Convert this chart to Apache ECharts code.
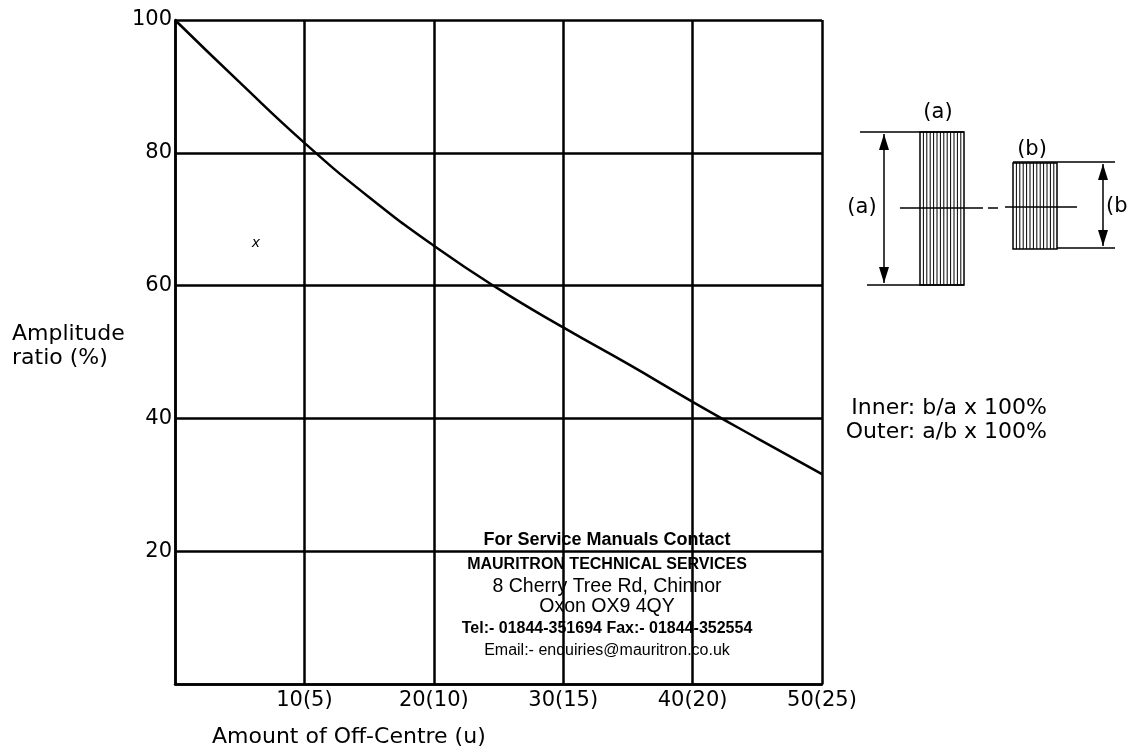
<!DOCTYPE html>
<html>
<head>
<meta charset="utf-8">
<script src="https://cdn.jsdelivr.net/npm/echarts@6/dist/echarts.min.js"></script>
<style>
html,body{margin:0;padding:0;background:#fff;}
#chart{width:1127px;height:750px;}
</style>
</head>
<body>
<div id="chart"></div>
<script>
// ---- data ----
const offCentre = [0, 5, 10, 15, 20, 25, 30, 35, 40, 45, 50];
const amplitudeRatio = [100, 90.6, 81.5, 73.3, 66.0, 59.5, 53.7, 48.2, 42.5, 37.0, 31.6];
const xTickValues = [10, 20, 30, 40, 50];
const xTickLabels = ['10(5)', '20(10)', '30(15)', '40(20)', '50(25)'];
const yTickValues = [20, 40, 60, 80, 100];
const yTickLabels = ['20', '40', '60', '80', '100'];
const contactLines = [
  'For Service Manuals Contact',
  'MAURITRON TECHNICAL SERVICES',
  '8 Cherry Tree Rd, Chinnor',
  'Oxon OX9 4QY',
  'Tel:- 01844-351694 Fax:- 01844-352554',
  'Email:- enquiries@mauritron.co.uk'
];
const formulaLines = ['Inner: b/a x 100%', 'Outer: a/b x 100%'];

const GEO = '"DejaVu Sans", Lato, sans-serif';
const ARIAL = '"Liberation Sans", Arial, sans-serif';

const chart = echarts.init(document.getElementById('chart'));

// schematic decoration
const g = [];
function line(x1, y1, x2, y2, w) {
  g.push({type: 'line', shape: {x1, y1, x2, y2}, style: {stroke: '#000', lineWidth: w || 1.5}, z: 10});
}
function arrowHead(x, y, dir) {
  g.push({type: 'polygon', shape: {points: [[x, y], [x - 5, y - dir * 16], [x + 5, y - dir * 16]]}, style: {fill: '#000'}, z: 10});
}
function txt(x, y, t, size, align, font, weight, style) {
  g.push({type: 'text', x, y, style: {text: t, fontSize: size, fontFamily: font || GEO, fill: '#000', align: align || 'left', verticalAlign: 'middle', fontWeight: weight || 'normal', fontStyle: style || 'normal'}, z: 10});
}
// rect (a)
g.push({type: 'rect', shape: {x: 920, y: 132, width: 44, height: 153}, style: {fill: 'none', stroke: '#000', lineWidth: 1.5}, z: 10});
for (let i = 1; i < 13; i++) line(920 + i * 3.4, 132, 920 + i * 3.4, 285, 1);
line(860, 132, 964, 132, 1.5);
line(867, 285, 964, 285, 1.5);
line(884, 134, 884, 283, 1.5);
arrowHead(884, 134, -1);
arrowHead(884, 283, 1);
txt(938, 113, '(a)', 21, 'center');
txt(862, 208, '(a)', 21, 'center');
// centre line
line(900, 208, 983, 208, 1.5);
line(988, 208, 998, 208, 1.5);
line(1005, 207, 1077, 207, 1.5);
// rect (b)
g.push({type: 'rect', shape: {x: 1013, y: 163, width: 44, height: 86}, style: {fill: 'none', stroke: '#000', lineWidth: 1.5}, z: 10});
for (let i = 1; i < 13; i++) line(1013 + i * 3.4, 163, 1013 + i * 3.4, 249, 1);
line(1013, 162, 1115, 162, 1.5);
line(1057, 248, 1115, 248, 1.5);
line(1103, 164, 1103, 246, 1.5);
arrowHead(1103, 164, -1);
arrowHead(1103, 246, 1);
txt(1032, 150, '(b)', 21, 'center');
txt(1106, 207, '(b)', 21, 'left');
// formula text
txt(1047, 408, formulaLines[0], 22, 'right');
txt(1047, 432, formulaLines[1], 22, 'right');
// axis titles
txt(12, 334, 'Amplitude', 22, 'left');
txt(12, 358, 'ratio (%)', 22, 'left');
txt(212, 737, 'Amount of Off-Centre (u)', 22, 'left');
// stray mark in scan
txt(256, 243, 'x', 14, 'center', GEO, 'normal', 'italic');
// contact block
const cx = 607;
const cy = [540, 565, 587, 607, 629, 651];
const cw = ['bold', 'bold', 'normal', 'normal', 'bold', 'normal'];
const cs = [18, 16, 19.5, 19.5, 16, 16];
contactLines.forEach((t, i) => txt(cx, cy[i], t, cs[i], 'center', ARIAL, cw[i]));

chart.setOption({
  animation: false,
  backgroundColor: '#fff',
  grid: {left: 175, right: 305, top: 20, bottom: 66},
  xAxis: {
    type: 'value', min: 0, max: 50, interval: 10,
    axisLine: {show: true, onZero: false, lineStyle: {color: '#000', width: 2.5}},
    axisTick: {show: false},
    splitLine: {show: true, lineStyle: {color: '#000', width: 2.5}},
    axisLabel: {
      color: '#000', fontSize: 21, fontFamily: GEO, margin: 6,
      formatter: v => { const i = xTickValues.indexOf(v); return i >= 0 ? xTickLabels[i] : ''; }
    }
  },
  yAxis: {
    type: 'value', min: 0, max: 100, interval: 20,
    axisLine: {show: true, onZero: false, lineStyle: {color: '#000', width: 2.5}},
    axisTick: {show: false},
    splitLine: {show: true, lineStyle: {color: '#000', width: 2.5}},
    axisLabel: {
      color: '#000', fontSize: 21, fontFamily: GEO, margin: 3,
      formatter: v => { const i = yTickValues.indexOf(v); return i >= 0 ? yTickLabels[i] : ''; }
    }
  },
  series: [{
    type: 'line',
    data: offCentre.map((x, i) => [x, amplitudeRatio[i]]),
    smooth: true,
    showSymbol: false,
    lineStyle: {color: '#000', width: 2.5},
    z: 5
  }],
  graphic: g
});
</script>
</body>
</html>
